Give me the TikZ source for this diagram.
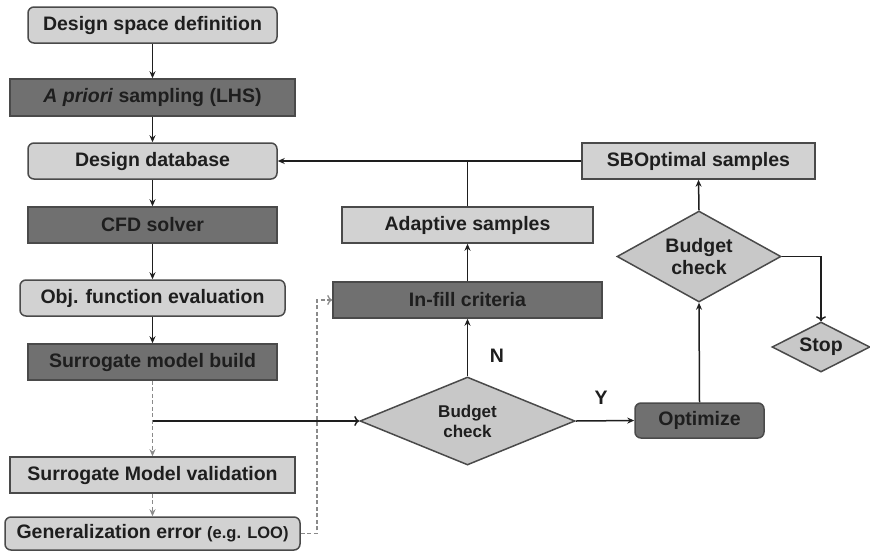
\documentclass[tikz,border=0pt]{standalone}
\usepackage{fontspec}
\setmainfont{Liberation Sans}
\usetikzlibrary{shapes.geometric,arrows.meta}
\definecolor{lightg}{HTML}{D2D2D2}
\definecolor{darkg}{HTML}{707070}
\definecolor{diag}{HTML}{C8C8C8}
\definecolor{bord}{HTML}{4A4A4A}
\definecolor{txt}{HTML}{1E1E1E}
\definecolor{dashg}{HTML}{8A8A8A}
\tikzset{
  box/.style={draw=bord, line width=1.5pt, inner sep=0pt, align=center, text=txt,
    font=\fontsize{19.5}{22.5}\selectfont\bfseries},
  lbox/.style={box, fill=lightg},
  dbox/.style={box, fill=darkg},
  rnd/.style={rounded corners=6pt},
  dia/.style={box, diamond, fill=diag, aspect=2},
  conn/.style={line width=1.5pt, draw=txt, -{Stealth[length=7pt,width=6pt]}},
  openconn/.style={line width=1.5pt, draw=txt, -{To[length=5pt,width=10pt]}},
  dconn/.style={line width=1.3pt, draw=dashg, dashed, dash pattern=on 4pt off 2.5pt, -{Stealth[length=7pt,width=6pt]}},
  lab/.style={font=\fontsize{19.5}{22.5}\selectfont\bfseries, text=txt, inner sep=0pt}
}
\begin{document}
\begin{tikzpicture}[x=1pt,y=-1pt]
\useasboundingbox (0,0) rectangle (870,550);
\node[lbox,rnd, minimum width=249pt, minimum height=36pt] (dsd) at (152.5,25) {Design space definition};
\node[dbox, minimum width=285pt, minimum height=37pt] (aps) at (152.5,97.5) {\textit{A priori} sampling (LHS)};
\node[lbox,rnd, minimum width=249pt, minimum height=36pt] (ddb) at (152.5,161) {Design database};
\node[dbox, minimum width=249pt, minimum height=36pt] (cfd) at (152.5,225) {CFD solver};
\node[lbox,rnd, minimum width=265pt, minimum height=36pt] (obj) at (152.5,298) {Obj. function evaluation};
\node[dbox, minimum width=249pt, minimum height=36pt] (smb) at (152.5,362) {Surrogate model build};
\node[lbox, minimum width=285pt, minimum height=36pt] (smv) at (152.5,475) {Surrogate Model validation};
\node[lbox,rnd, minimum width=295pt, minimum height=33pt] (gen) at (152.5,533.5) {Generalization error {\fontsize{16.5}{19}\selectfont (e.g. LOO)}};
\node[dbox, minimum width=269pt, minimum height=36pt] (inf) at (467.5,300) {In-fill criteria};
\node[lbox, minimum width=251pt, minimum height=36pt] (ada) at (467.5,225) {Adaptive samples};
\node[lbox, minimum width=233pt, minimum height=36pt] (sbo) at (698.5,161) {SBOptimal samples};
\node[dia, minimum width=215pt, minimum height=88pt, font=\fontsize{17}{20}\selectfont\bfseries] (bc1) at (467.5,421) {Budget\\check};
\node[dia, minimum width=164pt, minimum height=91pt] (bc2) at (699,256.5) {Budget\\check};
\node[dia, minimum width=98pt, minimum height=50pt] (stop) at (821,347) {Stop};
\node[dbox,rnd, minimum width=129pt, minimum height=35pt] (opt) at (699.5,420.5) {Optimize};
\node[lab] (nlab) at (497,356) {N};
\node[lab] (ylab) at (601,398) {Y};
\coordinate (split) at (smb.south |- bc1.west);
\coordinate (junc) at (ada.north |- ddb.east);
\coordinate (dturn) at (317,533.5);
\draw[conn] (dsd) -- (aps);
\draw[conn] (aps) -- (ddb);
\draw[conn] (ddb) -- (cfd);
\draw[conn] (cfd) -- (obj);
\draw[conn] (obj) -- (smb);
\draw[dconn] (smb) -- (smv);
\draw[dconn] (smv) -- (gen);
\draw[openconn] (split) -- (bc1.west);
\draw[dconn, -{To[length=5pt,width=10pt]}] (gen.east) -- (dturn) |- (inf.west);
\draw[conn] (bc1.north) -- (inf.south);
\draw[conn] (inf) -- (ada);
\draw[line width=1.5pt, draw=txt] (ada.north) -- (junc);
\draw[conn] (sbo.west) -- (ddb.east);
\draw[conn] (bc1.east) -- (opt.west);
\draw[conn] (opt.north) -- (bc2.south);
\draw[conn] (bc2.north) -- (sbo.south);
\draw[openconn] (bc2.east) -| (stop.north);
\end{tikzpicture}
\end{document}
